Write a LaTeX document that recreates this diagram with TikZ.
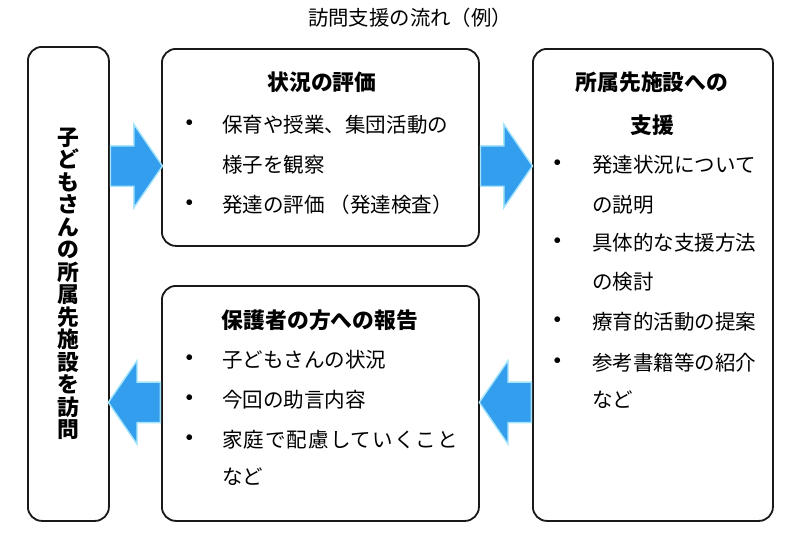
\documentclass[tikz,border=0pt]{standalone}
\usepackage{fontspec}
\setmainfont{Noto Sans CJK JP}
\usetikzlibrary{shapes.arrows,positioning}
\definecolor{flowblue}{RGB}{51,157,238}
\definecolor{flowedge}{RGB}{165,228,250}
\definecolor{boxline}{RGB}{25,25,25}

\begin{document}
\begin{tikzpicture}[
  box/.style={rectangle,draw=boxline,line width=1.3pt,rounded corners=0.35cm,
              inner sep=0pt,anchor=north west},
  head/.style={font=\fontsize{15.5}{18}\selectfont\bfseries,inner sep=0pt},
  item/.style={font=\fontsize{14.6}{17}\selectfont,inner sep=0pt,anchor=west},
  dot/.style={font=\fontsize{14.6}{17}\selectfont\bfseries,inner sep=0pt},
  bigarrow/.style={single arrow,fill=flowblue,draw=flowedge,line width=1pt,
                   inner xsep=0pt,inner ysep=0.4875cm,minimum height=1.3cm,
                   single arrow head extend=0.54cm,single arrow tip angle=111,
                   anchor=tail}
]
\useasboundingbox (0,0) rectangle (20,-13.65);
%% Titre
\node[font=\fontsize{14.5}{17}\selectfont] (title) at (10.25,-0.45) {訪問支援の流れ（例）};
%% Cadres
\node[box,minimum width=2.025cm,minimum height=11.85cm] (visit)   at (0.675,-1.15) {};
\node[box,minimum width=7.925cm,minimum height=4.925cm] (eval)    at (4.025,-1.2)  {};
\node[box,minimum width=7.925cm,minimum height=5.875cm] (report)  at (4.025,-7.125) {};
\node[box,minimum width=6cm,minimum height=11.8cm]      (support) at (13.3,-1.2)   {};
\node[font=\fontsize{15.5}{16}\selectfont\bfseries,align=center,inner sep=0pt]
  (visittext) at (visit.center)
  {子\\ど\\も\\さ\\ん\\の\\所\\属\\先\\施\\設\\を\\訪\\問};
%% Flèches
\coordinate (rowA) at (0,-4.15);
\coordinate (rowB) at (0,-10.06);
\node[bigarrow] (go1)   at (visit.east |- rowA) {};
\node[bigarrow] (go2)   at (eval.east |- rowA) {};
\node[bigarrow,shape border rotate=180] (back1) at (support.west |- rowB) {};
\node[bigarrow,shape border rotate=180] (back2) at (report.west |- rowB) {};
%% Évaluation
\node[head] (evalhead) at (8.05,-2.05) {状況の評価};
\node[dot]  (evaldot1) at (4.75,-3.125) {・};
\node[item] (eval1)    at (5.55,-3.125) {保育や授業、集団活動の};
\node[item] (eval2)    at (5.55,-4.125) {様子を観察};
\node[dot]  (evaldot2) at (4.75,-5.125) {・};
\node[item] (eval3)    at (5.55,-5.125) {発達の評価 （発達検査）};
%% Soutien
\node[head] (suphead1) at (16.3,-2.05)  {所属先施設への};
\node[head] (suphead2) at (16.3,-3.125) {支援};
\node[dot]  (supdot1)  at (13.95,-4.125) {・};
\node[item] (sup1)     at (14.8,-4.125)  {発達状況について};
\node[item] (sup2)     at (14.8,-5.125)  {の説明};
\node[dot]  (supdot2)  at (13.95,-6.075) {・};
\node[item] (sup3)     at (14.8,-6.075)  {具体的な支援方法};
\node[item] (sup4)     at (14.8,-7.05)   {の検討};
\node[dot]  (supdot3)  at (13.95,-8.05)  {・};
\node[item] (sup5)     at (14.8,-8.05)   {療育的活動の提案};
\node[dot]  (supdot4)  at (13.95,-9.075) {・};
\node[item] (sup6)     at (14.8,-9.075)  {参考書籍等の紹介};
\node[item] (sup7)     at (14.8,-10.0)   {など};
%% Rapport
\node[head] (rephead) at (8.0,-8.0)   {保護者の方への報告};
\node[dot]  (repdot1) at (4.75,-9.0)  {・};
\node[item] (rep1)    at (5.55,-9.0)  {子どもさんの状況};
\node[dot]  (repdot2) at (4.75,-10.0) {・};
\node[item] (rep2)    at (5.55,-10.0) {今回の助言内容};
\node[dot]  (repdot3) at (4.75,-11.0) {・};
\node[item,font=\fontsize{14.6}{17}\selectfont\addfontfeature{LetterSpace=5}]
            (rep3)    at (5.55,-11.0) {家庭で配慮していくこと};
\node[item] (rep4)    at (5.55,-11.925) {など};
\end{tikzpicture}
\end{document}
